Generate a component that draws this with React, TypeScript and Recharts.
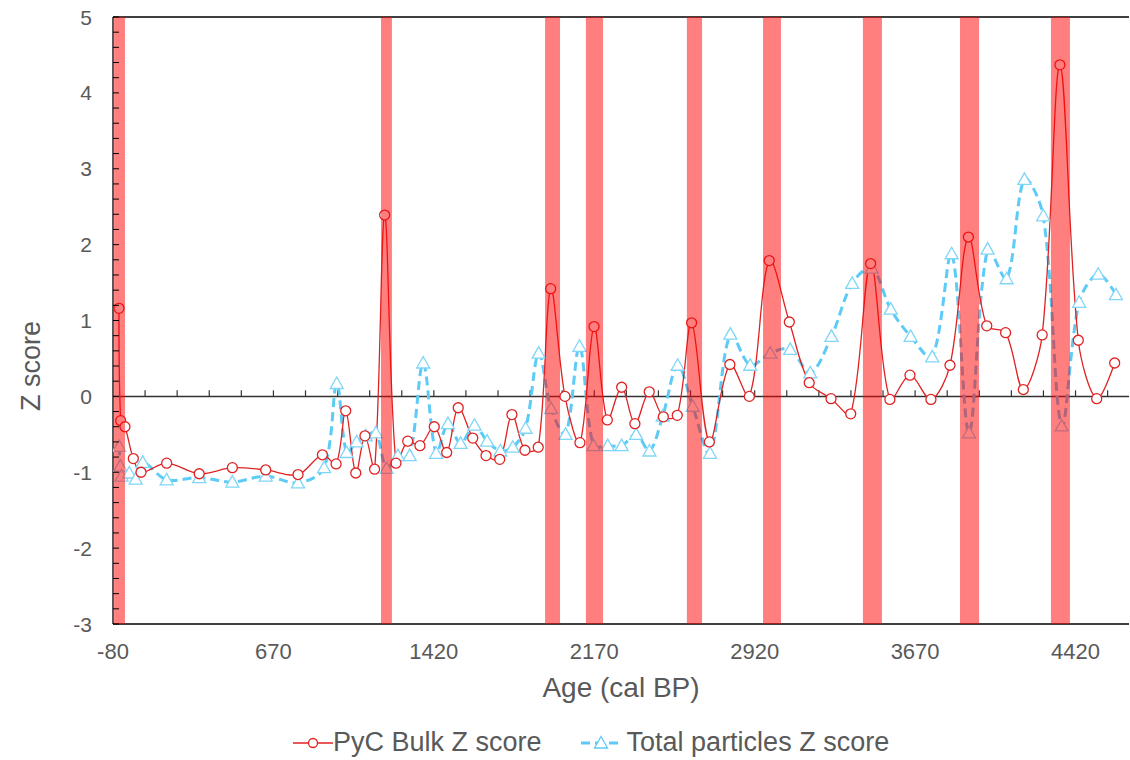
import React from 'react';
import { LineChart, Line, XAxis, YAxis, ReferenceArea, ReferenceLine, Legend } from 'recharts';

// PyC bulk Z score (age in cal BP, z)
const pycAge = [
  -52, -44, -24, 15, 51, 171, 323, 478, 634, 785, 899, 963, 1008, 1055, 1098, 1143, 1190, 1243, 1298, 1355,
  1422, 1480, 1534, 1602, 1664, 1728, 1785, 1846, 1908, 1966, 2033, 2103, 2169, 2231, 2298, 2360, 2427, 2493,
  2558, 2625, 2708, 2804, 2895, 2988, 3082, 3175, 3277, 3369, 3462, 3552, 3646, 3744, 3833, 3919, 4005, 4093,
  4176, 4264, 4347, 4433, 4519, 4603,
];
const pycZ = [
  1.16, -0.32, -0.4, -0.82, -1.0, -0.88, -1.02, -0.94, -0.97, -1.03, -0.77, -0.89, -0.19, -1.01, -0.52, -0.96,
  2.39, -0.88, -0.59, -0.65, -0.4, -0.74, -0.15, -0.55, -0.78, -0.83, -0.24, -0.71, -0.67, 1.42, 0.0, -0.61,
  0.92, -0.31, 0.12, -0.36, 0.06, -0.27, -0.25, 0.97, -0.6, 0.42, 0.0, 1.79, 0.98, 0.18, -0.03, -0.23, 1.75,
  -0.04, 0.28, -0.04, 0.41, 2.1, 0.93, 0.84, 0.09, 0.81, 4.37, 0.74, -0.03, 0.44,
];

// Total particles Z score
const totalAge = [
  -51, -46, -40, -4, 26, 59, 171, 323, 478, 634, 785, 907, 966, 1012, 1059, 1102, 1149, 1199, 1252, 1307, 1370,
  1431, 1486, 1545, 1610, 1669, 1731, 1789, 1849, 1910, 1968, 2036, 2101, 2166, 2233, 2298, 2366, 2428, 2490,
  2560, 2630, 2711, 2806, 2899, 2993, 3086, 3180, 3279, 3376, 3467, 3556, 3649, 3750, 3841, 3922, 4009, 4098,
  4181, 4269, 4355, 4437, 4526, 4609,
];
const totalZ = [
  -0.66, -0.92, -1.05, -1.01, -1.09, -0.87, -1.1, -1.07, -1.13, -1.05, -1.14, -0.94, 0.17, -0.74, -0.6, -0.52,
  -0.48, -0.95, -0.78, -0.78, 0.44, -0.75, -0.36, -0.62, -0.38, -0.59, -0.72, -0.67, -0.42, 0.57, -0.16, -0.5,
  0.66, -0.65, -0.65, -0.65, -0.5, -0.72, -0.26, 0.41, -0.13, -0.75, 0.82, 0.41, 0.57, 0.62, 0.31, 0.79, 1.49,
  1.69, 1.15, 0.79, 0.52, 1.88, -0.48, 1.94, 1.55, 2.86, 2.38, -0.39, 1.24, 1.61, 1.34,
];

// highlighted fire episodes
const bandStart = [-75, 1173, 1940, 2131, 2603, 2959, 3426, 3880, 4305];
const bandEnd = [-24, 1224, 2010, 2211, 2674, 3043, 3515, 3969, 4394];

const xTicks = [-80, 670, 1420, 2170, 2920, 3670, 4420];
const yTicks = [-3, -2, -1, 0, 1, 2, 3, 4, 5];

const pycData = pycAge.map((age, i) => ({ age, z: pycZ[i] }));
const totalData = totalAge.map((age, i) => ({ age, z: totalZ[i] }));

// minor tick marks: every 0.2 on y, every 150 years along the zero line
const yMinor = Array.from({ length: 41 }, (_, i) => Math.round((-3 + i * 0.2) * 10) / 10);
const zeroTicks = Array.from({ length: 31 }, (_, i) => -80 + 150 * (i + 1));

const FONT = '"Liberation Sans", Arial, sans-serif';
const TEXT = '#595959';
const RED = '#E02222';
const BLUE = '#5CCBF5';

// Excel-like smoothing: chord-weighted cardinal spline
function excelSmooth(context: any) {
  let pts: number[][] = [];
  const dist = (a: number[], b: number[]) => Math.hypot(a[0] - b[0], a[1] - b[1]) || 1e-6;
  return {
    areaStart() {},
    areaEnd() {},
    lineStart() {
      pts = [];
    },
    point(x: number, y: number) {
      pts.push([+x, +y]);
    },
    lineEnd() {
      const n = pts.length;
      if (!n) return;
      context.moveTo(pts[0][0], pts[0][1]);
      for (let i = 0; i < n - 1; i++) {
        const p0 = pts[i - 1] || pts[i];
        const p1 = pts[i];
        const p2 = pts[i + 1];
        const p3 = pts[i + 2] || p2;
        const dA = dist(p0, p1);
        const dB = dist(p1, p2);
        const dC = dist(p2, p3);
        const f1 = i === 0 ? 0 : dB / (dA + dB) / 3;
        const f2 = i + 2 >= n ? 0 : dB / (dB + dC) / 3;
        context.bezierCurveTo(
          p1[0] + (p2[0] - p0[0]) * f1,
          p1[1] + (p2[1] - p0[1]) * f1,
          p2[0] - (p3[0] - p1[0]) * f2,
          p2[1] - (p3[1] - p1[1]) * f2,
          p2[0],
          p2[1]
        );
      }
    },
  };
}

const YTick = ({ x, y, payload }: any) => {
  const v = payload.value;
  const major = Math.abs(v - Math.round(v)) < 1e-6;
  return (
    <g>
      <line x1={x} x2={x + 6} y1={y} y2={y} stroke='#000' strokeWidth={1} />
      {major && (
        <text x={x - 21} y={y} textAnchor='end' dominantBaseline='central' fontFamily={FONT} fontSize={21} fill={TEXT}>
          {Math.round(v)}
        </text>
      )}
    </g>
  );
};

const XTick = ({ x, y, payload }: any) => (
  <text x={x} y={y + 27} textAnchor='middle' dominantBaseline='central' fontFamily={FONT} fontSize={22} fill={TEXT}>
    {payload.value}
  </text>
);

const YTitle = () => (
  <text
    x={31}
    y={366}
    transform='rotate(-90 31 366)'
    textAnchor='middle'
    dominantBaseline='central'
    fontFamily={FONT}
    fontSize={27}
    fill={TEXT}
  >
    Z score
  </text>
);

const Triangle = ({ cx, cy, stroke }: any) => (
  <path
    d={`M${cx},${cy - 6.5}L${cx + 6.5},${cy + 5}L${cx - 6.5},${cy + 5}Z`}
    fill='#fff'
    stroke={stroke}
    strokeWidth={1.3}
  />
);

const LegendContent = () => (
  <div
    style={{ display: 'flex', alignItems: 'center', paddingLeft: 293, marginTop: 7, fontFamily: FONT, fontSize: 27, color: TEXT }}
  >
    <svg width={40} height={20}>
      <line x1={0} x2={40} y1={10} y2={10} stroke={RED} strokeWidth={1.5} />
      <circle cx={20} cy={10} r={4.5} fill='#fff' stroke={RED} strokeWidth={1.3} />
    </svg>
    <span style={{ marginLeft: 0 }}>PyC Bulk Z score</span>
    <svg width={40} height={20} style={{ marginLeft: 39 }}>
      <line x1={0} x2={40} y1={10} y2={10} stroke={BLUE} strokeWidth={3} strokeDasharray='9 5' />
      <path d='M20,3.5L26.5,15L13.5,15Z' fill='#fff' stroke={BLUE} strokeWidth={1.3} />
    </svg>
    <span style={{ marginLeft: 6 }}>Total particles Z score</span>
  </div>
);

export default function App() {
  return (
    <div style={{ position: 'absolute', left: 0, top: 0, width: 1130, height: 760, background: '#fff' }}>
      <LineChart width={1130} height={760} margin={{ top: 17, right: 1, left: 0, bottom: 0 }}>
        <XAxis
          dataKey='age'
          type='number'
          domain={[-80, 4670]}
          ticks={xTicks}
          interval={0}
          allowDataOverflow
          tickLine={false}
          tickSize={0}
          tickMargin={0}
          tick={<XTick />}
          axisLine={{ stroke: '#000', strokeWidth: 1.3 }}
          height={96}
          label={{ value: 'Age (cal BP)', position: 'insideBottom', offset: 23, fontFamily: FONT, fontSize: 28, fill: TEXT }}
        />
        <YAxis
          type='number'
          domain={[-3, 5]}
          ticks={yMinor}
          interval={0}
          allowDataOverflow
          tickLine={false}
          tickSize={0}
          tickMargin={0}
          tick={<YTick />}
          axisLine={{ stroke: '#000', strokeWidth: 1.3 }}
          width={113}
          label={<YTitle />}
        />
        <ReferenceLine y={5} stroke='#000' strokeWidth={1.3} />
        <ReferenceLine y={0} stroke='#333' strokeWidth={1.5} />
        {zeroTicks.map((t) => (
          <ReferenceLine key={`zt-${t}`} segment={[{ x: t, y: 0 }, { x: t, y: 0.08 }]} stroke='#333' strokeWidth={1.2} />
        ))}
        <Line
          data={totalData}
          dataKey='z'
          type={excelSmooth as any}
          stroke={BLUE}
          strokeWidth={3}
          strokeDasharray='9 5'
          dot={(p: any) => <Triangle key={`tri-${p.index}`} cx={p.cx} cy={p.cy} stroke='#7FD6F7' />}
          activeDot={false}
          isAnimationActive={false}
        />
        <Line
          data={pycData}
          dataKey='z'
          type={excelSmooth as any}
          stroke={RED}
          strokeWidth={1.3}
          dot={{ r: 5, fill: '#fff', stroke: RED, strokeWidth: 1.3 }}
          activeDot={false}
          isAnimationActive={false}
        />
        {bandStart.map((s, i) => (
          <ReferenceArea
            key={`band-${i}`}
            x1={s}
            x2={bandEnd[i]}
            y1={-3}
            y2={5}
            fill='#FF0000'
            fillOpacity={0.5}
            stroke='none'
            {...({ zIndex: 1000 } as any)}
          />
        ))}
        <Legend verticalAlign='bottom' height={40} content={<LegendContent />} wrapperStyle={{ left: 0, width: 1130, height: 40 }} />
      </LineChart>
    </div>
  );
}
